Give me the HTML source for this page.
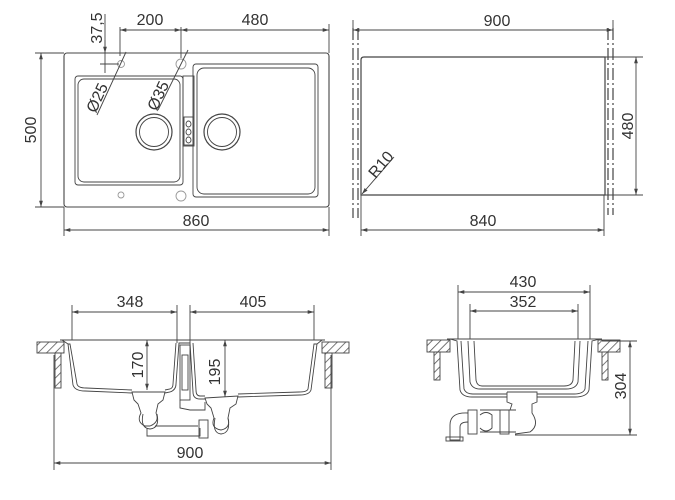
<!DOCTYPE html>
<html><head><meta charset="utf-8"><style>
html,body{margin:0;padding:0;background:#fff;width:675px;height:500px;overflow:hidden}
svg{display:block}
text{font-family:"Liberation Sans",Arial,sans-serif;font-size:16px;fill:#333}
</style></head><body>
<svg width="675" height="500" viewBox="0 0 675 500" xmlns="http://www.w3.org/2000/svg">
<defs>
<marker id="a" viewBox="0 0 10 10" refX="10" refY="5" markerWidth="7" markerHeight="7" orient="auto-start-reverse"><path d="M0,2 L10,5 L0,8 z" fill="#444"/></marker>
<pattern id="h" width="6" height="6" patternUnits="userSpaceOnUse" patternTransform="rotate(45)"><rect width="6" height="6" fill="#fff"/><line x1="0" y1="0" x2="0" y2="6" stroke="#555" stroke-width="1.6"/></pattern>
</defs>
<g fill="none" stroke="#444" stroke-width="0.9">
<rect x="64" y="53" width="265" height="154" rx="3" stroke-width="1.1"/>
<rect x="75" y="76" width="108" height="109" rx="3"/>
<rect x="78" y="79" width="102" height="103" rx="6"/>
<rect x="183" y="76" width="11" height="70"/>
<rect x="184" y="117" width="9" height="28"/>
<ellipse cx="188.5" cy="124" rx="2.5" ry="3"/><ellipse cx="188.5" cy="132" rx="2.5" ry="3"/><ellipse cx="188.5" cy="140" rx="2.5" ry="3"/>
<rect x="193" y="64" width="125" height="133" rx="3"/>
<rect x="197" y="68" width="118" height="126" rx="7"/>
<circle cx="154" cy="132" r="18" stroke-width="1.2"/><circle cx="154" cy="132" r="14.5"/>
<circle cx="222" cy="132" r="18" stroke-width="1.2"/><circle cx="222" cy="132" r="14.5"/>
<circle cx="121" cy="64" r="3.5" stroke="#999"/><circle cx="181" cy="64" r="5" stroke="#999"/>
<circle cx="121" cy="195" r="3" stroke="#999"/><circle cx="181" cy="196" r="5" stroke="#999"/>
<line x1="120" y1="27" x2="120" y2="56"/><line x1="181" y1="27" x2="181" y2="58"/><line x1="329" y1="24" x2="329" y2="53"/>
<line x1="120" y1="30" x2="181" y2="30" marker-start="url(#a)" marker-end="url(#a)"/>
<line x1="181" y1="30" x2="329" y2="30" marker-start="url(#a)" marker-end="url(#a)"/>
<line x1="105" y1="14" x2="105" y2="73"/><line x1="100" y1="64" x2="119" y2="64"/>
<line x1="105" y1="40" x2="105" y2="53" marker-end="url(#a)"/>
<line x1="126" y1="52" x2="97" y2="115"/><line x1="188" y1="50" x2="158" y2="110"/>
<line x1="35" y1="53" x2="64" y2="53"/><line x1="35" y1="207" x2="64" y2="207"/>
<line x1="41" y1="53" x2="41" y2="207" marker-start="url(#a)" marker-end="url(#a)"/>
<line x1="64" y1="207" x2="64" y2="236"/><line x1="329" y1="207" x2="329" y2="236"/>
<line x1="64" y1="230" x2="329" y2="230" marker-start="url(#a)" marker-end="url(#a)"/>
<path d="M361,60 Q361,57 364,57 L605,57 L605,195 L361,195 Z" stroke-width="1.2"/>
<g stroke-dasharray="12,3,2,3" stroke-width="1.2">
<line x1="353" y1="28" x2="353" y2="218"/><line x1="358" y1="28" x2="358" y2="218"/>
<line x1="608" y1="28" x2="608" y2="215"/><line x1="613" y1="28" x2="613" y2="215"/>
</g>
<line x1="353" y1="20" x2="353" y2="30"/><line x1="613" y1="20" x2="613" y2="30"/>
<line x1="353" y1="30" x2="613" y2="30" marker-start="url(#a)" marker-end="url(#a)"/>
<line x1="605" y1="57" x2="643" y2="57"/><line x1="605" y1="195" x2="643" y2="195"/>
<line x1="636" y1="57" x2="636" y2="195" marker-start="url(#a)" marker-end="url(#a)"/>
<line x1="361" y1="195" x2="361" y2="236"/><line x1="604" y1="195" x2="604" y2="236"/>
<line x1="361" y1="230" x2="604" y2="230" marker-start="url(#a)" marker-end="url(#a)"/>
<line x1="394" y1="157" x2="362" y2="194" marker-end="url(#a)"/>
<rect x="37" y="342" width="27" height="11" fill="url(#h)"/><rect x="55" y="353" width="6" height="35" fill="url(#h)"/>
<rect x="322" y="342" width="27" height="11" fill="url(#h)"/><rect x="325" y="353" width="7" height="35" fill="url(#h)"/>
<line x1="60" y1="340" x2="325" y2="340"/>
<path d="M62,340 L68,344 L73,385 Q75,391 85,391 L132,393 M165,393 L170,392 Q176,390 176,384 L179,343 L184,343"/>
<path d="M68,344 L70,344 L77,384 Q78,388 86,388 L132,390 M165,390 L170,389 Q173,388 173,384 L176,343"/>
<path d="M322,340 L317,344 L311,390 Q309,395 300,395 L238,397 M205,399 L200,399 Q193,399 193,392 L190,343 L184,343"/>
<path d="M317,344 L314,344 L308,389 Q307,392 299,392 L238,394 M205,396 L200,396 Q196,396 196,390 L193,343"/>
<rect x="180" y="345" width="10" height="55"/><rect x="182" y="355" width="6" height="35"/>
<path d="M132,392 L165,392 L163,400 L158,404 L156,413 Q160,422 150,426 L145,426 Q136,422 141,413 L138,404 L134,400 Z"/>
<path d="M143,414 Q140,428 150,429 Q160,428 157,414"/>
<path d="M205,398 L238,396 L236,404 L230,408 L228,418 Q231,428 221,430 Q210,428 214,418 L211,408 L207,404 Z"/>
<path d="M215,418 Q212,433 221,434 Q231,433 228,418"/>
<path d="M180,400 L180,408 L190,410 L205,410 L205,402"/>
<path d="M147,428 L147,436 L200,436 L200,428"/><path d="M155,426 L198,426"/>
<rect x="199" y="420" width="9" height="18"/>
<line x1="72" y1="305" x2="72" y2="340"/><line x1="177" y1="305" x2="177" y2="343"/>
<line x1="190" y1="305" x2="190" y2="343"/><line x1="314" y1="305" x2="314" y2="340"/>
<line x1="72" y1="312" x2="177" y2="312" marker-start="url(#a)" marker-end="url(#a)"/>
<line x1="190" y1="312" x2="314" y2="312" marker-start="url(#a)" marker-end="url(#a)"/>
<line x1="147" y1="340" x2="147" y2="390" marker-start="url(#a)" marker-end="url(#a)"/>
<line x1="225" y1="340" x2="225" y2="397" marker-start="url(#a)" marker-end="url(#a)"/>
<line x1="54" y1="355" x2="54" y2="470"/><line x1="331" y1="355" x2="331" y2="470"/>
<line x1="54" y1="463" x2="331" y2="463" marker-start="url(#a)" marker-end="url(#a)"/>
<rect x="427" y="340" width="23" height="12" fill="url(#h)"/><rect x="434" y="352" width="6" height="28" fill="url(#h)"/>
<rect x="598" y="340" width="22" height="12" fill="url(#h)"/><rect x="602" y="352" width="6" height="28" fill="url(#h)"/>
<line x1="447" y1="339" x2="602" y2="339"/>
<path d="M450,339 L457,341 L460,390 Q462,397 472,397 L507,397 M537,397 L575,397 Q587,397 589,390 L592,341 L600,339"/>
<path d="M461,341 L464,389 Q466,394 473,394 L507,394 M537,394 L574,394 Q583,394 585,389 L588,341"/>
<path d="M468,341 L470,382 Q472,389 480,389 L566,389 Q576,389 578,382 L580,341"/>
<path d="M474,341 L476,380 Q477,386 482,386 L564,386 Q572,386 573,380 L575,341"/>
<path d="M507,392 L537,392 L537,402 L532,404 L532,413 Q540,425 530,432 L515,434"/>
<path d="M507,392 L507,402 L512,404 L510,410"/>
<path d="M516,410 L480,410 M516,432 L480,432"/>
<rect x="500" y="410" width="9" height="24"/><rect x="468" y="410" width="9" height="24"/>
<path d="M468,413 Q450,412 450,425 L450,440 L460,440 L460,427 Q460,422 468,422"/>
<rect x="446" y="437" width="17" height="4"/>
<path d="M480,415 Q486,410 492,415 L492,428 Q486,434 480,428"/>
<line x1="458" y1="285" x2="458" y2="339"/><line x1="590" y1="285" x2="590" y2="339"/>
<line x1="470" y1="304" x2="470" y2="339"/><line x1="578" y1="304" x2="578" y2="339"/>
<line x1="458" y1="292" x2="590" y2="292" marker-start="url(#a)" marker-end="url(#a)"/>
<line x1="470" y1="311" x2="578" y2="311" marker-start="url(#a)" marker-end="url(#a)"/>
<line x1="602" y1="341" x2="637" y2="341"/><line x1="515" y1="435" x2="637" y2="435"/>
<line x1="630" y1="341" x2="630" y2="435" marker-start="url(#a)" marker-end="url(#a)"/>
</g>
<text x="150" y="25" text-anchor="middle">200</text>
<text x="255" y="25" text-anchor="middle">480</text>
<text transform="translate(102,28) rotate(-90)" text-anchor="middle">37,5</text>
<text transform="translate(36,130) rotate(-90)" text-anchor="middle">500</text>
<text x="196" y="226" text-anchor="middle">860</text>
<text transform="translate(102,100) rotate(-65)" text-anchor="middle">Ø25</text>
<text transform="translate(163,98) rotate(-65)" text-anchor="middle">Ø35</text>
<text x="497" y="26" text-anchor="middle">900</text>
<text transform="translate(633,126) rotate(-90)" text-anchor="middle">480</text>
<text x="483" y="226" text-anchor="middle">840</text>
<text transform="translate(385,168) rotate(-50)" text-anchor="middle">R10</text>
<text x="130" y="307" text-anchor="middle">348</text>
<text x="253" y="307" text-anchor="middle">405</text>
<text transform="translate(143,365) rotate(-90)" text-anchor="middle">170</text>
<text transform="translate(220,372) rotate(-90)" text-anchor="middle">195</text>
<text x="190" y="458" text-anchor="middle">900</text>
<text x="523" y="287" text-anchor="middle">430</text>
<text x="523" y="307" text-anchor="middle">352</text>
<text transform="translate(626,386) rotate(-90)" text-anchor="middle">304</text>
</svg>
</body></html>
